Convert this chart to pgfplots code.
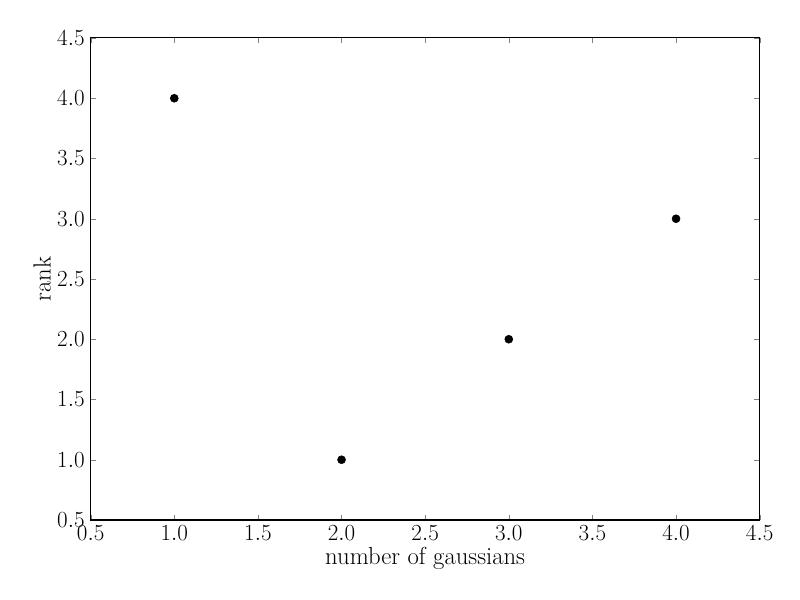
\documentclass[border=0pt]{standalone}
\usepackage{pgfplots}
\pgfplotsset{compat=1.18}
\begin{document}
\begin{tikzpicture}
\path[use as bounding box] (0,0) rectangle (600pt,450pt);
\begin{axis}[
  at={(68pt,60pt)}, anchor=south west,
  scale only axis, width=501.75pt, height=361.5pt,
  xmin=0.5, xmax=4.5, ymin=0.5, ymax=4.5,
  xtick={0.5,1,...,4.5}, ytick={0.5,1,...,4.5},
  tick align=inside, tick pos=both,
  major tick length=4pt,
  /pgf/number format/fixed,
  /pgf/number format/fixed zerofill,
  /pgf/number format/precision=1,
  tick label style={font=\fontsize{18.5}{22}\selectfont},
  label style={font=\fontsize{18.5}{22}\selectfont},
  xticklabel style={yshift=-1pt},
  yticklabel style={xshift=-1pt},
  xlabel={number of gaussians}, ylabel={rank},
  xlabel style={yshift=2pt},
  ylabel style={yshift=-2pt},
  axis line style={line width=0.75pt},
]
\addplot[only marks, mark=*, mark size=3pt, black] coordinates {
(1,4) (2,1) (3,2) (4,3)
};
\end{axis}
\end{tikzpicture}
\end{document}
